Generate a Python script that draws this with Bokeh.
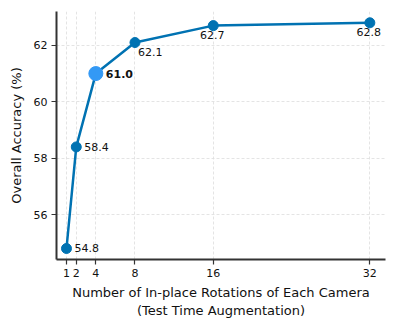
from bokeh.plotting import figure
from bokeh.models import ColumnDataSource, FixedTicker, Range1d, LabelSet
from bokeh.core.properties import value
from bokeh.embed import file_html
from bokeh.resources import INLINE

rotations = [1, 2, 4, 8, 16, 32]
accuracy = [54.8, 58.4, 61.0, 62.1, 62.7, 62.8]
labels = ["54.8", "58.4", "61.0", "62.1", "62.7", "62.8"]
y_ticks = [56, 58, 60, 62]

FONT = "DejaVu Sans"
LINE = "#0072B2"
HIGHLIGHT = "#3399F5"

p = figure(width=396, height=327, output_backend="svg", toolbar_location=None,
           x_range=Range1d(-0.02, 33.6), y_range=Range1d(54.41, 63.2),
           min_border_left=56, min_border_right=11, min_border_top=11, min_border_bottom=68)
p.outline_line_color = None
p.background_fill_color = "white"
p.border_fill_color = "white"

p.line(rotations, accuracy, line_color=LINE, line_width=2.5)
others = [i for i in range(len(rotations)) if rotations[i] != 4]
p.scatter([rotations[i] for i in others], [accuracy[i] for i in others],
          size=10, fill_color=LINE, line_color=LINE)
hi = rotations.index(4)
p.scatter([rotations[hi]], [accuracy[hi]], size=14, fill_color=HIGHLIGHT, line_color=HIGHLIGHT)

common = dict(text_font=value(FONT), text_font_size="11px", text_color="#111111")

right_idx = [0, 1]
src_r = ColumnDataSource(dict(x=[rotations[i] for i in right_idx], y=[accuracy[i] for i in right_idx],
                              t=[labels[i] for i in right_idx]))
p.add_layout(LabelSet(x="x", y="y", text="t", source=src_r, x_offset=8, y_offset=0,
                      text_baseline="middle", text_align="left", **common))
src_h = ColumnDataSource(dict(x=[rotations[hi]], y=[accuracy[hi]], t=[labels[hi]]))
p.add_layout(LabelSet(x="x", y="y", text="t", source=src_h, x_offset=10, y_offset=0,
                      text_baseline="middle", text_align="left", text_font_style="bold", **common))
src_b1 = ColumnDataSource(dict(x=[rotations[3]], y=[accuracy[3]], t=[labels[3]]))
p.add_layout(LabelSet(x="x", y="y", text="t", source=src_b1, x_offset=3, y_offset=-5,
                      text_baseline="top", text_align="left", **common))
src_b = ColumnDataSource(dict(x=rotations[4:], y=accuracy[4:], t=labels[4:]))
p.add_layout(LabelSet(x="x", y="y", text="t", source=src_b, x_offset=-1, y_offset=-5,
                      text_baseline="top", text_align="center", **common))

p.xaxis.ticker = FixedTicker(ticks=rotations)
p.yaxis.ticker = FixedTicker(ticks=y_ticks)
p.xaxis.axis_label = "Number of In-place Rotations of Each Camera\n(Test Time Augmentation)"
p.yaxis.axis_label = "Overall Accuracy (%)"
for ax in (p.xaxis, p.yaxis):
    ax.axis_label_text_font = FONT
    ax.axis_label_text_font_size = "13px"
    ax.axis_label_text_font_style = "normal"
    ax.axis_label_text_color = "#111111"
    ax.major_label_text_font = FONT
    ax.major_label_text_font_size = "11px"
    ax.major_label_text_color = "#111111"
    ax.axis_line_width = 2
    ax.axis_line_color = "#333333"
    ax.major_tick_line_color = "#333333"
    ax.major_tick_line_width = 1.2
    ax.major_tick_out = 5
    ax.major_tick_in = 0
    ax.minor_tick_line_color = None
p.xaxis.axis_label_standoff = 5
p.yaxis.axis_label_standoff = 7
p.xaxis.major_label_standoff = 4
p.yaxis.major_label_standoff = 4

p.xgrid.grid_line_color = "#dddddd"
p.ygrid.grid_line_color = "#dddddd"
p.xgrid.grid_line_dash = "3 2"
p.ygrid.grid_line_dash = "3 2"
p.xgrid.grid_line_width = 0.8
p.ygrid.grid_line_width = 0.8

open("out.html", "w").write(file_html(p, INLINE))
